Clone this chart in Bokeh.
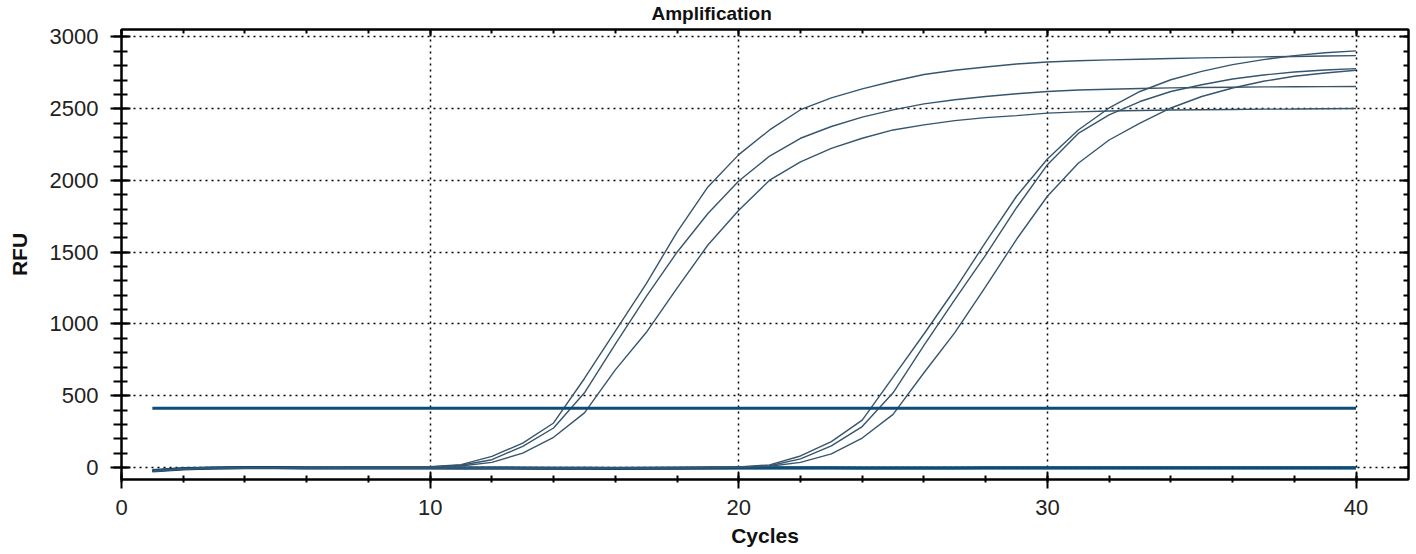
from bokeh.plotting import figure
from bokeh.models import Range1d, LinearAxis, SingleIntervalTicker, CustomLabelingPolicy
from bokeh.embed import file_html
from bokeh.resources import INLINE

# ---------------- data ----------------
cycles = list(range(1, 41))

# early group (three replicates)
curve_a = [-25, -10, -4, -2, -1, -2, -1, 0, 1,
           5, 20, 77, 170, 310, 620, 950, 1280, 1640, 1955,
           2180, 2352, 2493, 2575, 2638, 2691, 2738, 2768, 2791, 2812,
           2826, 2834, 2840, 2845, 2850, 2854, 2858, 2861, 2864, 2867, 2870]
curve_b = [-25, -10, -4, -2, -1, -2, -1, 0, 1,
           4, 15, 54, 147, 275, 520, 860, 1190, 1500, 1770,
           1996, 2170, 2294, 2376, 2441, 2492, 2534, 2562, 2585, 2604,
           2620, 2630, 2636, 2641, 2645, 2648, 2650, 2652, 2653, 2654, 2655]
curve_c = [-25, -10, -4, -2, -1, -2, -1, 0, 1,
           3, 10, 35, 100, 210, 380, 680, 940, 1250, 1550,
           1792, 2002, 2130, 2224, 2294, 2352, 2387, 2417, 2438, 2452,
           2469, 2478, 2484, 2488, 2491, 2493, 2495, 2497, 2498, 2500, 2501]

# late group (three replicates)
curve_d = [-25, -10, -4, -2, -3, -4, -5, -5, -4, -3, -3, -4, -5, -6, -6, -5, -4, -2, 0,
           3, 18, 80, 180, 330, 630, 930, 1240, 1570, 1890,
           2150, 2352, 2505, 2620, 2702, 2760, 2807, 2842, 2870, 2890, 2903]
curve_e = [-25, -10, -4, -2, -3, -4, -5, -5, -4, -3, -3, -4, -5, -6, -6, -5, -4, -2, 0,
           2, 12, 60, 150, 285, 520, 850, 1170, 1480, 1810,
           2110, 2328, 2457, 2550, 2620, 2667, 2707, 2735, 2756, 2770, 2779]
curve_f = [-25, -10, -4, -2, -3, -4, -5, -5, -4, -3, -3, -4, -5, -6, -6, -5, -4, -2, 0,
           1, 8, 35, 95, 205, 370, 660, 940, 1260, 1590,
           1890, 2120, 2282, 2399, 2505, 2585, 2644, 2691, 2726, 2749, 2768]

# negative controls
neg_1 = [-25, -10, -4, -2, -2, -3, -3, -3, -3, -3, -4, -4, -5, -6, -6, -7, -6, -5, -4, -3,
         -3, -3, -3, -4, -4, -4, -4, -3, -3, -3, -3, -3, -3, -3, -3, -3, -3, -3, -3, -3]
neg_2 = [-22, -8, -3, -1, -1, -2, -2, -2, -2, -2, -3, -3, -4, -5, -5, -6, -5, -4, -3, -2,
         -2, -2, -2, -3, -3, -3, -3, -2, -2, -2, -2, -2, -2, -2, -2, -2, -2, -2, -2, -2]

threshold_cycles = [1, 40]
threshold_value = 413

amp_curves = [curve_a, curve_b, curve_c, curve_d, curve_e, curve_f]
neg_curves = [neg_1, neg_2]

CURVE = "#37556d"
THRESH = "#0e4c78"
FONT = "Liberation Sans"

# ---------------- figure ----------------
p = figure(width=1413, height=553,
           x_range=Range1d(0, 41.7), y_range=Range1d(-84, 3052),
           output_backend="svg", toolbar_location=None,
           title="Amplification",
           min_border_left=121, min_border_right=2,
           min_border_top=29, min_border_bottom=74)

p.title.align = "left"
p.title.offset = 530
p.title.text_font = FONT
p.title.text_font_size = "19px"
p.title.text_font_style = "bold"
p.title.text_color = "#111111"
p.title.standoff = 0
p.title.vertical_align = "top"

p.background_fill_color = "white"
p.border_fill_color = "white"
p.outline_line_color = "black"
p.outline_line_width = 2

# grid
for g in (p.xgrid, p.ygrid):
    g.grid_line_color = "black"
    g.grid_line_dash = "2 4"
    g.grid_line_width = 1.5

p.xaxis.ticker = SingleIntervalTicker(interval=10, num_minor_ticks=5)
p.yaxis.ticker = SingleIntervalTicker(interval=500, num_minor_ticks=5)
p.xgrid.ticker = p.xaxis.ticker
p.ygrid.ticker = p.yaxis.ticker

for ax in (p.xaxis, p.yaxis):
    ax.axis_line_color = "black"
    ax.axis_line_width = 2
    ax.major_tick_line_color = "black"
    ax.major_tick_line_width = 2
    ax.minor_tick_line_color = "black"
    ax.minor_tick_line_width = 2
    ax.major_label_text_font = FONT
    ax.major_label_text_font_size = "22px"
    ax.major_label_text_color = "#222222"
    ax.axis_label_text_font = FONT
    ax.axis_label_text_font_size = "21px"
    ax.axis_label_text_font_style = "bold"
    ax.axis_label_text_color = "#111111"

p.xaxis.axis_label = "Cycles"
p.xaxis.major_tick_in = 7
p.xaxis.major_tick_out = 9
p.xaxis.minor_tick_in = 4
p.xaxis.minor_tick_out = 3
p.xaxis.major_label_standoff = 11
p.xaxis.axis_label_standoff = 6

p.yaxis.axis_label = "RFU"
p.yaxis.major_tick_in = 9
p.yaxis.major_tick_out = 11
p.yaxis.minor_tick_in = 6
p.yaxis.minor_tick_out = 8
p.yaxis.major_label_standoff = 12
p.yaxis.axis_label_standoff = 16

# top and right inward ticks, labels suppressed
hide_labels = CustomLabelingPolicy(code="""
for (const i of indices) { indices.unset(i) }
return indices
""")
top = LinearAxis(ticker=SingleIntervalTicker(interval=10, num_minor_ticks=5),
                 major_label_policy=hide_labels,
                 major_label_text_font_size="1px", major_label_standoff=0,
                 major_tick_in=7, major_tick_out=0, minor_tick_in=4, minor_tick_out=0,
                 axis_line_color="black", axis_line_width=2,
                 major_tick_line_width=2, minor_tick_line_width=2)
right = LinearAxis(ticker=SingleIntervalTicker(interval=500, num_minor_ticks=5),
                   major_label_policy=hide_labels,
                   major_label_text_font_size="1px", major_label_standoff=0,
                   major_tick_in=9, major_tick_out=0, minor_tick_in=5, minor_tick_out=0,
                   axis_line_color="black", axis_line_width=2,
                   major_tick_line_width=2, minor_tick_line_width=2)
p.add_layout(top, "above")
p.add_layout(right, "right")

# data
for ys in neg_curves:
    p.line(cycles, ys, line_color=THRESH, line_width=3)
for ys in amp_curves:
    p.line(cycles, ys, line_color=CURVE, line_width=1.4)
p.line(threshold_cycles, [threshold_value, threshold_value], line_color=THRESH, line_width=3)

open("out.html", "w").write(file_html(p, INLINE))
